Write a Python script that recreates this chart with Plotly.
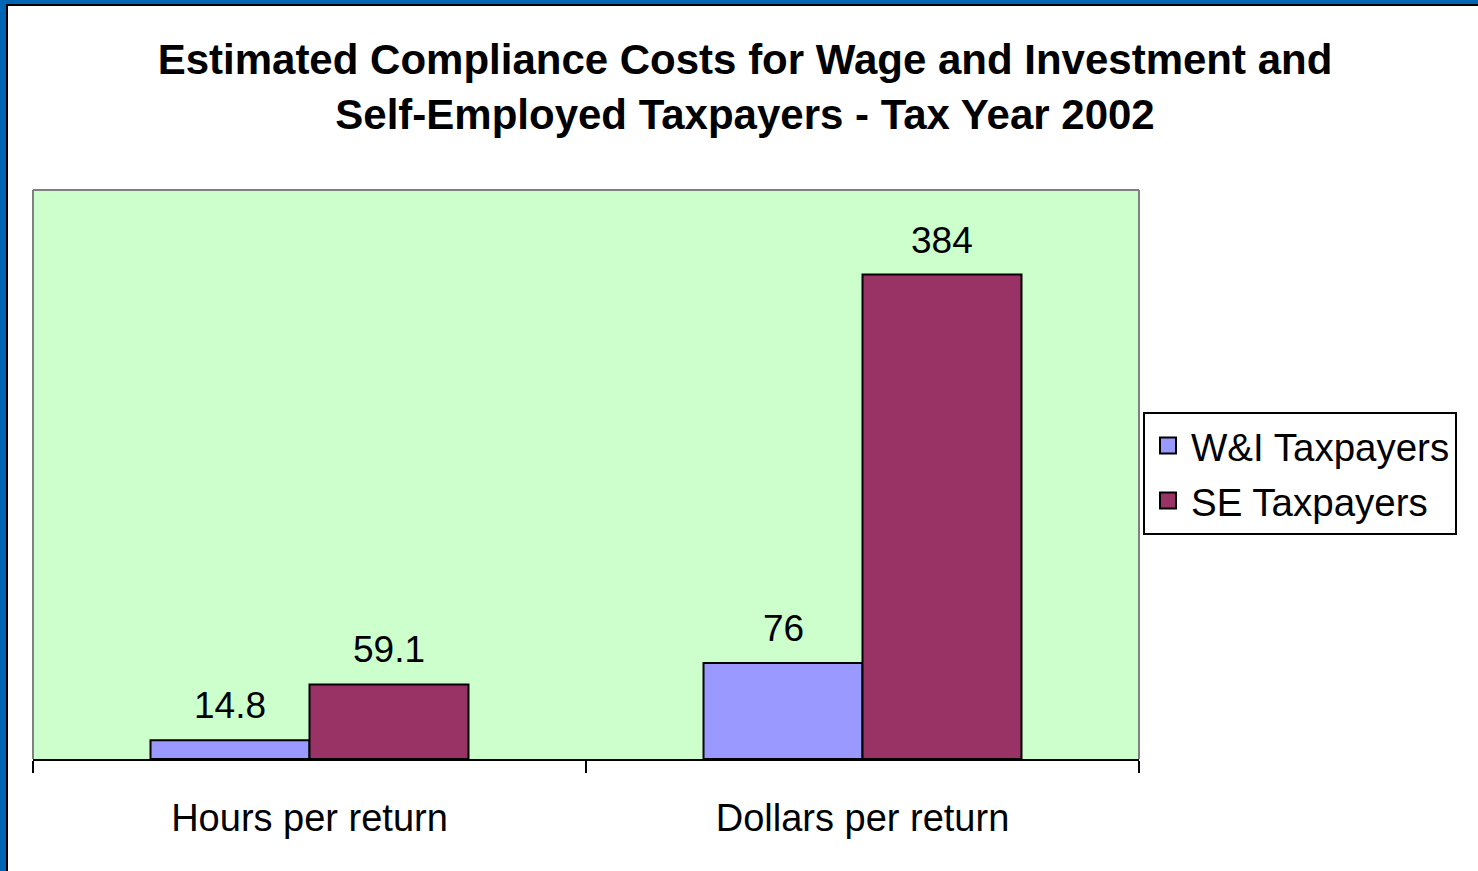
import plotly.graph_objects as go

categories = ["Hours per return", "Dollars per return"]
wi_values = [14.8, 76]
se_values = [59.1, 384]
series_names = ["W&I Taxpayers", "SE Taxpayers"]
series_colors = ["#9999FF", "#993366"]
title_text = "Estimated Compliance Costs for Wage and Investment and<br>Self-Employed Taxpayers - Tax Year 2002"

W, H = 1478, 871
ML, MR, MT, MB = 33, 339, 190, 112
PW, PH = W - ML - MR, H - MT - MB
FONT = "Arial, 'Liberation Sans', sans-serif"

def px_x(px):
    return (px - ML) / PW

def px_y(py):
    return (H - MB - py) / PH

fig = go.Figure()
for name, vals, col in zip(series_names, (wi_values, se_values), series_colors):
    fig.add_trace(go.Bar(x=categories, y=vals, name=name, showlegend=False, legendgroup=name,
                         marker=dict(color=col, line=dict(color="black", width=2))))
# legend entries with larger square swatches
for name, col in zip(series_names, series_colors):
    fig.add_trace(go.Scatter(x=[None], y=[None], mode="markers", name=name, legendgroup=name,
                             marker=dict(symbol="square", size=22, color=col, line=dict(color="black", width=2))))

bar_px = PW / len(categories) * (1 - 0.425) / 2
annotations = []
for vals, sh in ((wi_values, -bar_px / 2), (se_values, bar_px / 2)):
    for c, v in zip(categories, vals):
        annotations.append(dict(x=c, y=v, xref="x", yref="y", text=f"{v:g}", showarrow=False,
                                xshift=sh, yshift=12, yanchor="bottom",
                                font=dict(family=FONT, size=37, color="black")))

shapes = [
    dict(type="rect", xref="paper", yref="paper", x0=px_x(0), x1=px_x(6), y0=px_y(H), y1=px_y(0),
         fillcolor="#0066B3", line=dict(width=0), layer="above"),
    dict(type="rect", xref="paper", yref="paper", x0=px_x(0), x1=px_x(W), y0=px_y(4), y1=px_y(0),
         fillcolor="#0066B3", line=dict(width=0), layer="above"),
    dict(type="rect", xref="paper", yref="paper", x0=px_x(6), x1=px_x(8), y0=px_y(H), y1=px_y(4),
         fillcolor="black", line=dict(width=0), layer="above"),
    dict(type="rect", xref="paper", yref="paper", x0=px_x(6), x1=px_x(W), y0=px_y(6), y1=px_y(4),
         fillcolor="black", line=dict(width=0), layer="above"),
    dict(type="line", xref="paper", yref="paper", x0=0, x1=0, y0=0, y1=1, line=dict(color="#808080", width=2)),
    dict(type="line", xref="paper", yref="paper", x0=0, x1=1, y0=1, y1=1, line=dict(color="#808080", width=2)),
    dict(type="line", xref="paper", yref="paper", x0=1, x1=1, y0=0, y1=1, line=dict(color="#808080", width=2)),
]

fig.update_layout(
    width=W, height=H,
    margin=dict(l=ML, r=MR, t=MT, b=MB),
    paper_bgcolor="white", plot_bgcolor="#CCFFCC",
    barmode="group", bargap=0.425, bargroupgap=0,
    font=dict(family=FONT, color="black"),
    title=dict(text=f"<b>{title_text}</b>", x=745 / W, xanchor="center", y=1 - 74 / H, yanchor="top",
               font=dict(family=FONT, size=42, color="black")),
    legend=dict(x=px_x(1143), y=px_y(412), xanchor="left", yanchor="top",
                bgcolor="white", bordercolor="black", borderwidth=2, itemwidth=36,
                tracegroupgap=2, itemsizing="trace",
                font=dict(family=FONT, size=38.5, color="black")),
    showlegend=True,
    annotations=annotations,
    shapes=shapes,
)
fig.update_xaxes(showline=True, linecolor="black", linewidth=2, ticks="outside", tickson="boundaries",
                 ticklen=12, tickwidth=2, tickcolor="black", showgrid=False, ticklabelstandoff=24,
                 tickfont=dict(family=FONT, size=38, color="black"))
fig.update_yaxes(range=[0, 451], showgrid=False, showticklabels=False, zeroline=False, showline=False)

fig.write_html("out.html")
